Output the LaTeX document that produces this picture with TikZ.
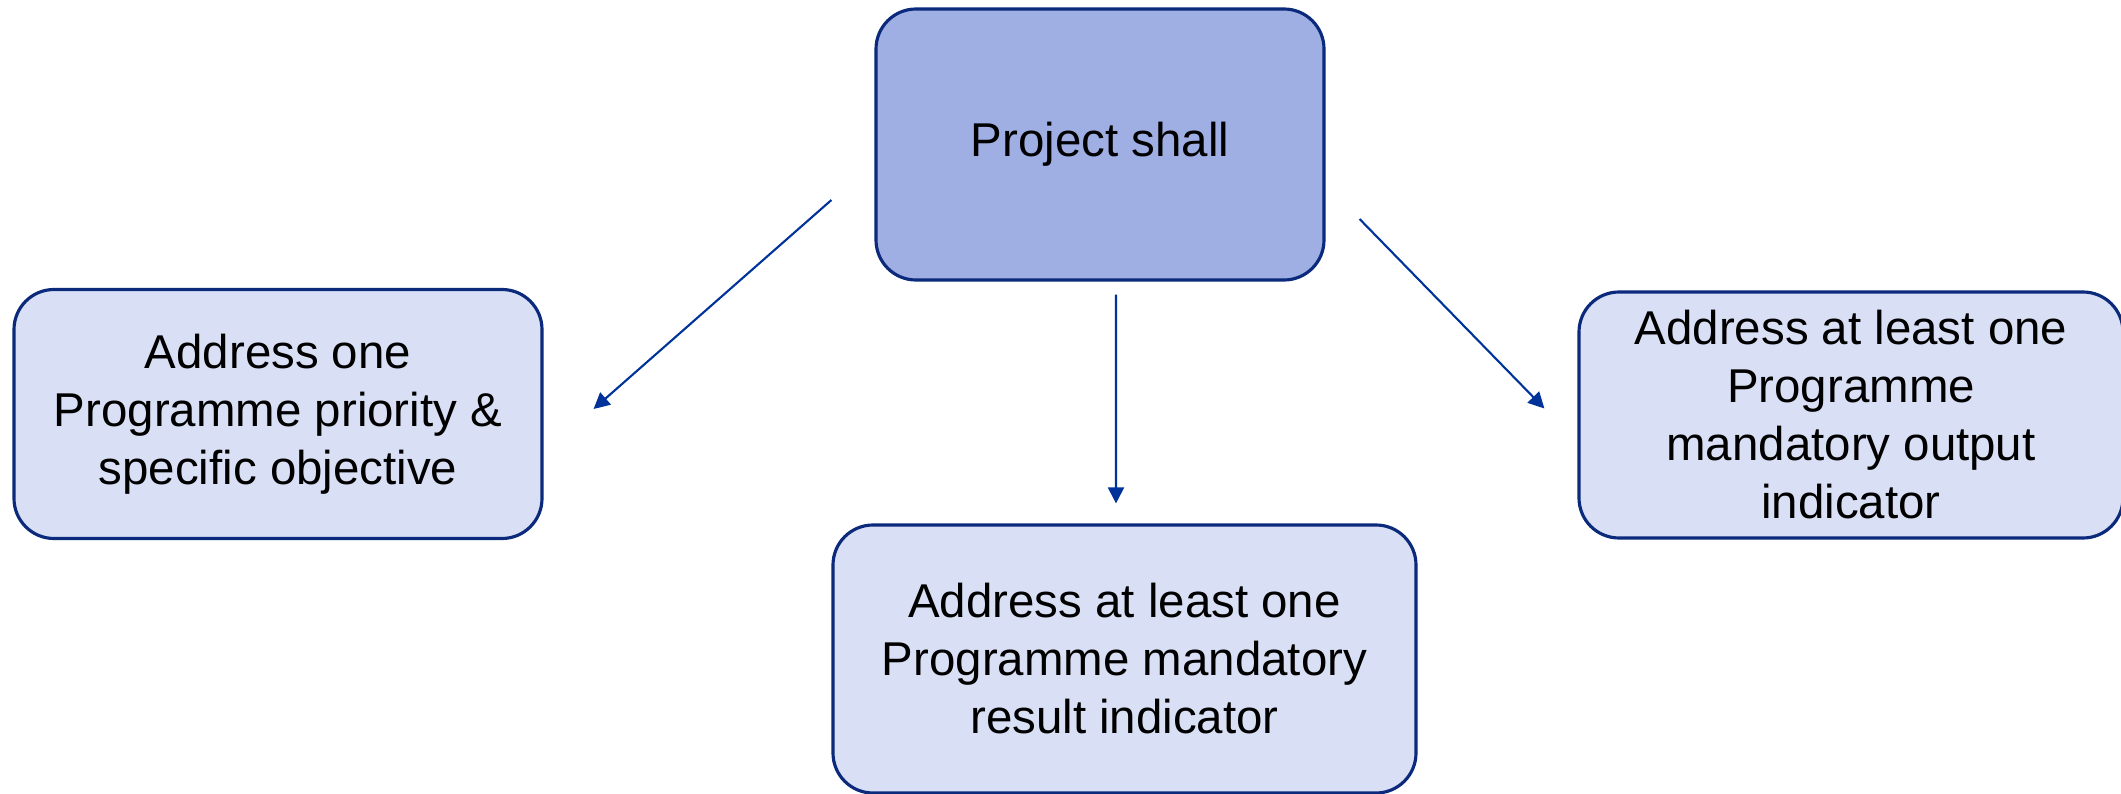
\documentclass[tikz,border=0pt]{standalone}
\usepackage{fontspec}
\setmainfont{Liberation Sans}
\usetikzlibrary{arrows.meta, positioning, shapes}
\definecolor{boxline}{HTML}{0B2A7C}
\definecolor{arrowblue}{HTML}{00339A}
\definecolor{topfill}{HTML}{9FAFE4}
\definecolor{subfill}{HTML}{D9DFF4}
\tikzstyle{arrow} = [line width=0.6pt, arrowblue, -{Triangle[length=1.6mm, width=1.6mm]}]
\tikzstyle{goal} = [draw=boxline, line width=0.9pt, rectangle, rounded corners=0.4cm, fill=subfill, align=center, font=\fontsize{13.5}{16.5}\selectfont]

\begin{document}
\begin{tikzpicture}
  \useasboundingbox (0,0) rectangle (21.21,-7.94);
  % Nodes
  \node (project) [goal, fill=topfill, minimum width=4.48cm, minimum height=2.71cm] at (11.00,-1.445) {Project shall};
  \node (priority) [goal, minimum width=5.28cm, minimum height=2.49cm] at (2.78,-4.14) {Address one\\Programme priority \&\\specific objective};
  \node (result) [goal, minimum width=5.83cm, minimum height=2.68cm] at (11.245,-6.59) {Address at least one\\Programme mandatory\\result indicator};
  \node (output) [goal, minimum width=5.44cm, minimum height=2.46cm] at (18.51,-4.15) {Address at least one\\Programme\\mandatory output\\indicator};

  % Arrows
  \draw[arrow] ([shift={(-0.43,-0.555)}]project.west) -- ([shift={(0.5,0.05)}]priority.east);
  \draw[arrow] ([shift={(0.16,-0.13)}]project.south) -- ([shift={(-0.085,0.2)}]result.north);
  \draw[arrow] ([shift={(0.34,-0.745)}]project.east) -- ([shift={(-0.33,0.065)}]output.west);
\end{tikzpicture}
\end{document}
